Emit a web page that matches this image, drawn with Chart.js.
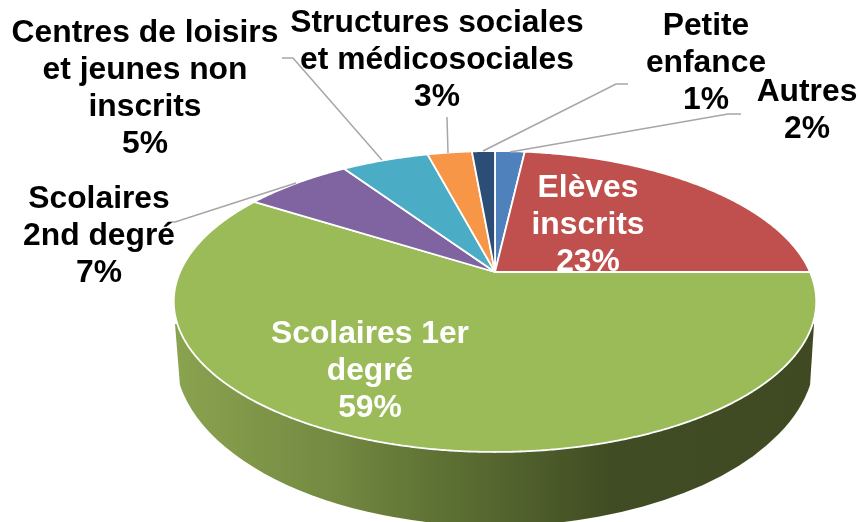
<!DOCTYPE html>
<html><head><meta charset="utf-8">
<style>html,body{margin:0;padding:0;background:#fff}canvas{display:block}</style>
<script src="https://cdn.jsdelivr.net/npm/chart.js@4"></script>
</head><body><canvas id="c" width="858" height="522"></canvas>
<script>
const categories = ["Autres","Elèves inscrits","Scolaires 1er degré","Scolaires 2nd degré","Centres de loisirs et jeunes non inscrits","Structures sociales et médicosociales","Petite enfance"];
const shares = [1.8,23.2,59,6.6,5.3,2.7,1.4];
const colors = ["#4F81BD","#C0504D","#9BBB59","#8064A2","#4BACC6","#F79646","#2C4D75"];
const labelLines = [["Autres","2%"],["Elèves","inscrits","23%"],["Scolaires 1er","degré","59%"],["Scolaires","2nd degré","7%"],["Centres de loisirs","et jeunes non","inscrits","5%"],["Structures sociales","et médicosociales","3%"],["Petite","enfance","1%"]];
const labelColors = ["#000","#fff","#fff","#000","#000","#000","#000"];
const labelAnchors = [[807,101],[588,197],[370,343],[99,208],[145,42],[437,32],[706,35]];
const leaders = [
 [[741,114],[728,114],[510,152]],
 null,null,
 [[168,222],[175,222],[296,183]],
 [[282,58],[293,58],[382,160]],
 [[447,117],[448,153]],
 [[628,84],[616,84],[483,151]]
];
const FONT = 'bold 31.8px "Liberation Sans", Arial, sans-serif';
const LINE = 37;
// perspective of the pie's disc
const K = 0.196, AX = 315/250, BY = 144.7/250;
function project(arc, angle){
  const t = angle + Math.PI/2, u = Math.sin(t), v = -Math.cos(t), w = 1 - K*v;
  return [arc.x + AX*arc.outerRadius*u/w, arc.y + BY*arc.outerRadius*v/w];
}
const pie3d = {
  id:'pie3d',
  beforeDatasetDraw(chart){
    const ctx = chart.ctx, arcs = chart.getDatasetMeta(0).data, a0 = arcs[0];
    // side wall
    const cy = a0.y + 83, rx = 320/250*a0.outerRadius, ry = 171/250*a0.outerRadius, tip = 0.176;
    const g = ctx.createLinearGradient(175,0,815,0);
    g.addColorStop(0,'#8AA34F'); g.addColorStop(0.24,'#758A42'); g.addColorStop(0.38,'#627636');
    g.addColorStop(0.5,'#55662F'); g.addColorStop(0.68,'#404C23'); g.addColorStop(1,'#3F4A22');
    ctx.save();
    ctx.beginPath();
    ctx.moveTo(a0.x-320,a0.y+52);
    ctx.ellipse(a0.x,cy,rx,ry,0,Math.PI-tip,tip,true);
    ctx.lineTo(a0.x+319,a0.y+52);
    ctx.closePath();
    ctx.fillStyle = g; ctx.fill();
    // top faces
    ctx.lineJoin='round';
    arcs.forEach(arc=>{
      ctx.beginPath();
      ctx.moveTo(arc.x,arc.y);
      const n = Math.max(2,Math.ceil((arc.endAngle-arc.startAngle)/0.006));
      for(let i=0;i<=n;i++){
        const p = project(arc, arc.startAngle+(arc.endAngle-arc.startAngle)*i/n);
        ctx.lineTo(p[0],p[1]);
      }
      ctx.closePath();
      ctx.fillStyle = arc.options.backgroundColor; ctx.fill();
      ctx.strokeStyle = '#fff'; ctx.lineWidth = 1.8; ctx.stroke();
    });
    ctx.restore();
    return false;
  },
  afterDraw(chart){
    const ctx = chart.ctx;
    ctx.save();
    ctx.strokeStyle='#A6A6A6'; ctx.lineWidth=1.5;
    leaders.forEach(l=>{ if(!l) return;
      ctx.beginPath(); l.forEach((p,i)=> i?ctx.lineTo(p[0],p[1]):ctx.moveTo(p[0],p[1])); ctx.stroke();
    });
    ctx.font=FONT; ctx.textAlign='center'; ctx.textBaseline='alphabetic';
    labelLines.forEach((lines,i)=>{
      ctx.fillStyle=labelColors[i];
      lines.forEach((t,j)=>ctx.fillText(t,labelAnchors[i][0],labelAnchors[i][1]+j*LINE));
    });
    ctx.restore();
  }
};
new Chart(document.getElementById('c'),{
  type:'pie',
  data:{labels:categories,datasets:[{data:shares,backgroundColor:colors,borderColor:'#fff',borderWidth:0}]},
  options:{responsive:false,animation:false,
    layout:{padding:{left:132,top:22}},
    plugins:{legend:{display:false},tooltip:{enabled:false}}},
  plugins:[pie3d]
});
</script></body></html>
